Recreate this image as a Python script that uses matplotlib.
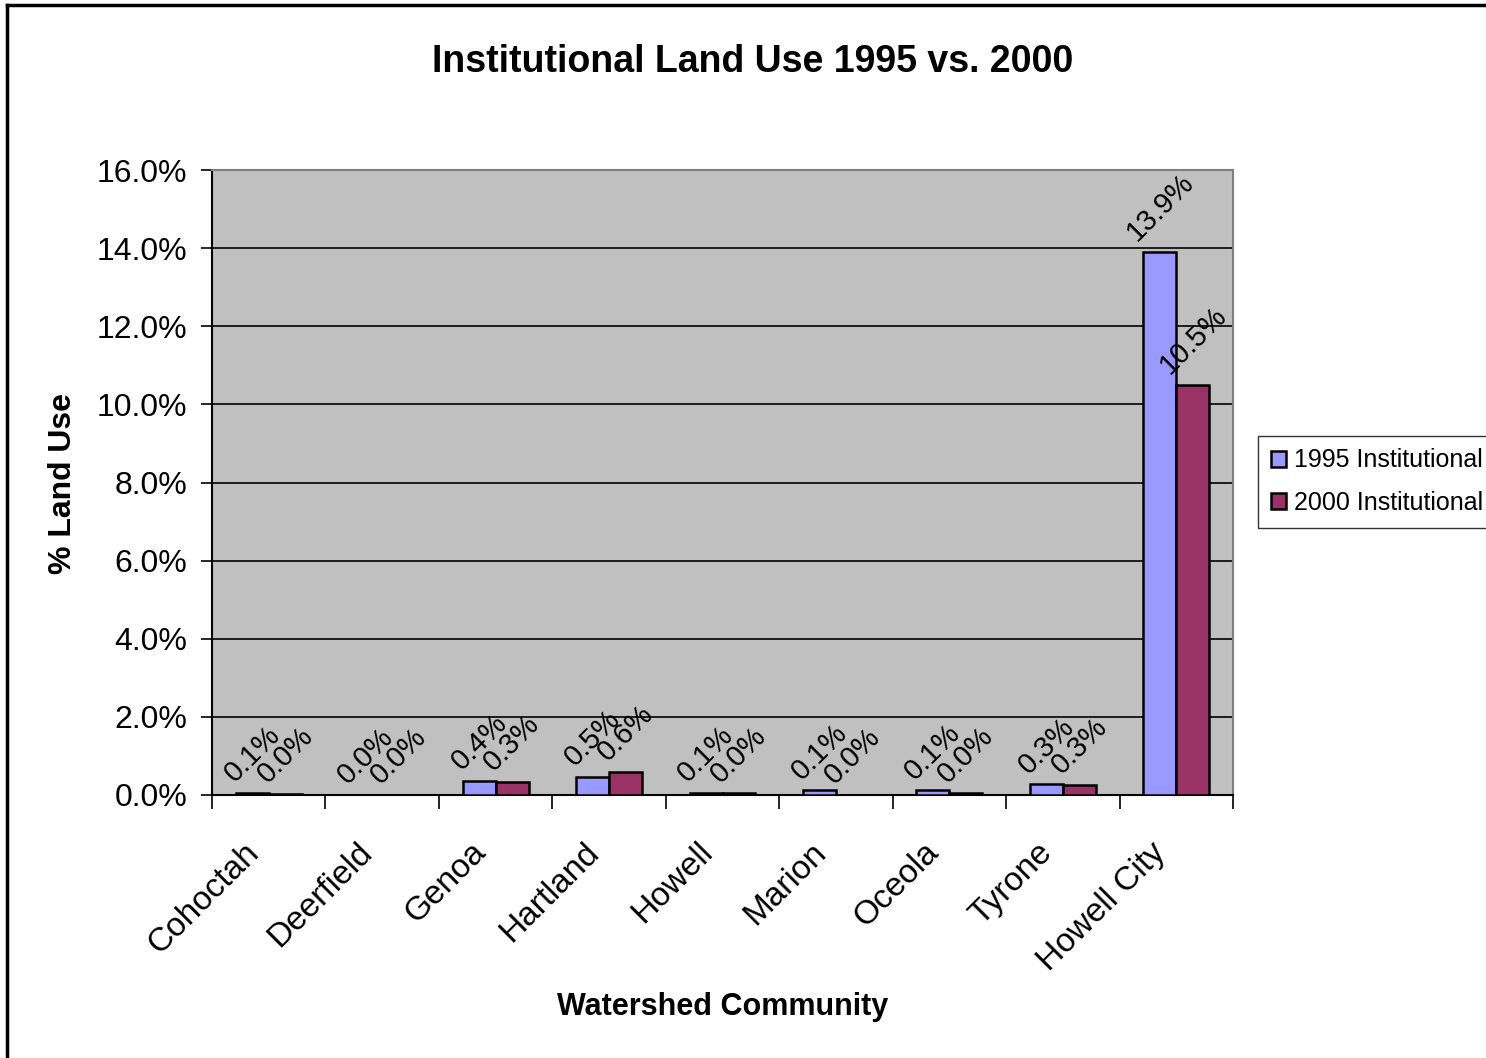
import numpy as np
import matplotlib
matplotlib.use("Agg")
import matplotlib.pyplot as plt
from matplotlib.lines import Line2D
from matplotlib.transforms import ScaledTranslation

plt.rcParams['font.family'] = ['Liberation Sans', 'DejaVu Sans']

communities = ['Cohoctah', 'Deerfield', 'Genoa', 'Hartland', 'Howell',
               'Marion', 'Oceola', 'Tyrone', 'Howell City']
inst_1995 = [0.0006, 0.0, 0.0036, 0.0046, 0.0006, 0.0012, 0.0012, 0.0027, 0.139]
inst_2000 = [0.0003, 0.0, 0.0034, 0.0060, 0.0004, 0.0, 0.0004, 0.0026, 0.105]
series_names = ['1995 Institutional', '2000 Institutional']
y_ticks = [0.0, 0.02, 0.04, 0.06, 0.08, 0.10, 0.12, 0.14, 0.16]

W, H = 1486, 1058
fig = plt.figure(figsize=(W / 100, H / 100), dpi=100)
ax = fig.add_axes([212 / W, 1 - 795 / H, (1233 - 212) / W, (795 - 170) / H])
ax.set_facecolor('#C0C0C0')

x = np.arange(len(communities))
w = 0.29
b1 = ax.bar(x - w / 2, inst_1995, w, color='#9999FF', edgecolor='black',
            linewidth=1.8, label=series_names[0], zorder=3)
b2 = ax.bar(x + w / 2, inst_2000, w, color='#993366', edgecolor='black',
            linewidth=1.8, label=series_names[1], zorder=3)

# value labels, tilted 45 degrees above each bar
for bars, vals in ((b1, inst_1995), (b2, inst_2000)):
    for rect, v in zip(bars, vals):
        ax.annotate(f"{v * 100:.1f}%",
                    (rect.get_x() + rect.get_width() / 2, v),
                    xytext=(0, 4), textcoords='offset points',
                    ha='center', va='bottom', rotation=45,
                    fontsize=21, zorder=4)

ax.set_xlim(-0.5, len(communities) - 0.5)
ax.set_ylim(0, 0.16)
ax.set_yticks(y_ticks)
ax.set_yticklabels([f"{t * 100:.1f}%" for t in y_ticks], fontsize=23)
ax.yaxis.grid(True, color='black', linewidth=1.2, zorder=1)
ax.set_axisbelow(True)

ax.set_xticks(np.arange(len(communities) + 1) - 0.5)
ax.set_xticklabels([])
ax.set_xticks(x, minor=True)
ax.set_xticklabels(communities, minor=True, rotation=45, ha='right',
                   va='center', rotation_mode='anchor', fontsize=24)
ax.tick_params(axis='x', which='minor', length=0, pad=38)
ax.tick_params(axis='x', which='major', length=10, width=1.2, direction='out')
ax.tick_params(axis='y', length=8, width=1.2, direction='out', pad=10)
shift = ScaledTranslation(-15 / 100, 0, fig.dpi_scale_trans)
for lab in ax.get_xticklabels(minor=True):
    lab.set_transform(lab.get_transform() + shift)

for side in ('top', 'right'):
    ax.spines[side].set_color('#808080')
    ax.spines[side].set_linewidth(1.5)
for side in ('left', 'bottom'):
    ax.spines[side].set_color('black')
    ax.spines[side].set_linewidth(1.5)

fig.text(753 / W, 1 - 62 / H, 'Institutional Land Use 1995 vs. 2000',
         ha='center', va='center', fontsize=27, fontweight='bold')
fig.text(723 / W, 1 - 1007 / H, 'Watershed Community', ha='center', va='center',
         fontsize=22, fontweight='bold')
fig.text(63 / W, 1 - 484 / H, '% Land Use', ha='center', va='center',
         rotation=90, fontsize=23, fontweight='bold')

leg = fig.legend(handles=[b1, b2], loc='upper left',
                 bbox_to_anchor=(1258 / W, 1 - 436 / H),
                 fontsize=18, frameon=True, fancybox=False, edgecolor='black',
                 handlelength=0.6, handleheight=0.6, handletextpad=0.35,
                 borderpad=0.5, labelspacing=0.75, borderaxespad=0)
leg.get_frame().set_linewidth(1.0)

# outer frame: only the left and top edges show
fig.add_artist(Line2D([7 / W, 7 / W], [0, 1 - 5 / H], transform=fig.transFigure,
                      color='black', linewidth=2.5))
fig.add_artist(Line2D([7 / W, 1], [1 - 5 / H, 1 - 5 / H], transform=fig.transFigure,
                      color='black', linewidth=2.5))

fig.savefig('out.png', dpi=100)
